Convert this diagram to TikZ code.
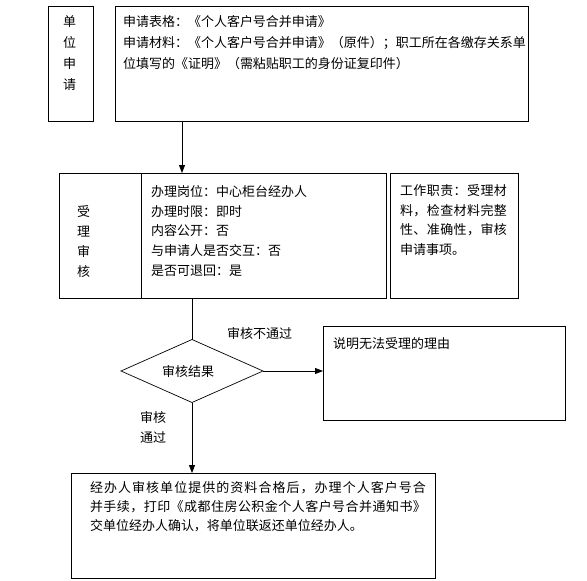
\documentclass[tikz,border=0pt]{standalone}
\usepackage{fontspec}
\newfontfamily\cjk{Noto Sans CJK SC}
\usetikzlibrary{shapes.geometric,arrows.meta}
\makeatletter
\def\sprfirst#1{#1\sprnext}
\def\sprnext#1{\ifx#1\relax\else\hfil#1\expandafter\sprnext\fi}
\makeatother
\newcommand\jl[2]{\makebox[#1pt][s]{\sprfirst#2\relax}}
\begin{document}
\begin{tikzpicture}[x=1pt,y=-1pt,
 every node/.style={font=\cjk\fontsize{13}{19.7}\selectfont, inner sep=0pt, outer sep=0pt},
 box/.style={draw, line width=0.8pt, anchor=north west},
 txt/.style={anchor=north west, align=left},
 arr/.style={-{Triangle[length=8pt,width=6pt]}, line width=0.8pt},
 ln/.style={line width=0.8pt}]
\useasboundingbox (0,0) rectangle (587,581);
% boxes
\node[box, minimum width=45pt, minimum height=115pt] (b1) at (48,6) {};
\node[box, minimum width=413pt, minimum height=115pt] (b2) at (115,6) {};
\node[box, minimum width=82pt, minimum height=125pt] (b3a) at (59,173) {};
\node[box, minimum width=245pt, minimum height=125pt] (b3b) at (141,173) {};
\node[box, minimum width=128pt, minimum height=125pt] (b4) at (390,173) {};
\node[draw, line width=0.7pt, diamond, minimum width=142pt, minimum height=63pt] (dia) at (192,371) {};
\node[box, minimum width=242pt, minimum height=94pt] (b5) at (323,326) {};
\node[box, minimum width=364pt, minimum height=105pt] (b6) at (71,473) {};
% texts
\node[txt, font=\cjk\fontsize{13}{21}\selectfont] (t1) at (63,16) {单\\位\\申\\请};
\node[txt, font=\cjk\fontsize{13}{21}\selectfont] (t2) at (123,15.5) {申请表格：《个人客户号合并申请》\\\jl{396}{申请材料：《个人客户号合并申请》（原件）；职工所在各缴存关系单}\\位填写的《证明》（需粘贴职工的身份证复印件）};
\node[txt] (t3a) at (77,206) {受\\理\\审\\核};
\node[txt] (t3b) at (151,185.5) {办理岗位：中心柜台经办人\\办理时限：即时\\内容公开：否\\与申请人是否交互：否\\是否可退回：是};
\node[txt] (t4) at (400,184.5) {\jl{107}{工作职责：受理材}\\\jl{107}{料，检查材料完整}\\\jl{107}{性、准确性，审核}\\申请事项。};
\node[txt] (t5) at (333,337.5) {说明无法受理的理由};
\node (tdia) at (188,372) {审核结果};
\node[txt] (l1) at (227,327.5) {审核不通过};
\node[txt] (l2) at (140,411.5) {审核\\通过};
\node[txt, font=\cjk\fontsize{13}{19}\selectfont] (t6) at (90,481.5) {\jl{336}{经办人审核单位提供的资料合格后，办理个人客户号合}\\\jl{336}{并手续，打印《成都住房公积金个人客户号合并通知书》}\\交单位经办人确认，将单位联返还单位经办人。};
% connectors
\coordinate (c1) at (182,0);
\draw[arr] (b2.south -| c1) -- (b3b.north -| c1);
\draw[ln] (b3b.south -| dia.north) -- (dia.north);
\draw[arr] (dia.east) -- (dia.east -| b5.west);
\draw[arr] (dia.south) -- (dia.south |- b6.north);
\end{tikzpicture}
\end{document}
